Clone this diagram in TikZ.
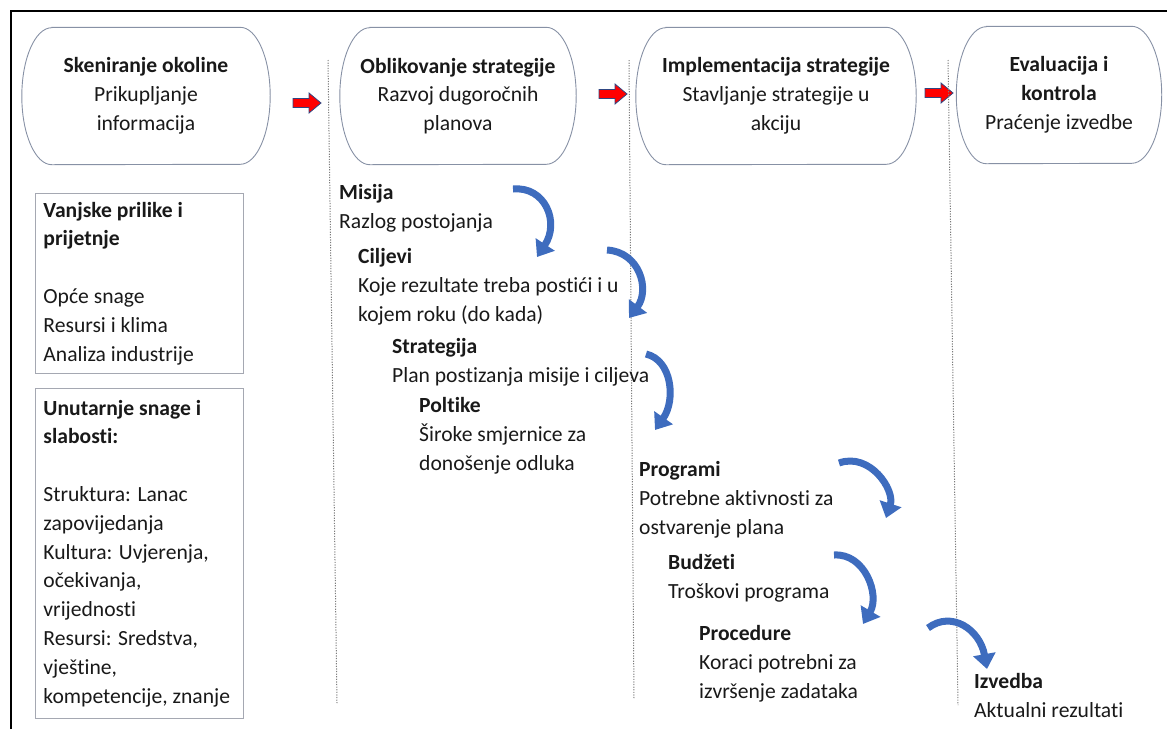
\documentclass[tikz,border=0pt]{standalone}
\usepackage{fontspec}
\setmainfont{Carlito}[Ligatures={NoCommon,NoContextual,NoRare}]
\usetikzlibrary{arrows.meta}
\definecolor{phaseline}{RGB}{135,145,165}
\definecolor{boxline}{RGB}{165,168,178}
\definecolor{dotline}{RGB}{125,125,125}
\definecolor{curvblue}{RGB}{62,108,190}
\definecolor{arrline}{RGB}{47,70,130}
\definecolor{textcol}{RGB}{25,25,25}
\newcommand{\phaseoutline}[1]{%
  \draw[draw=phaseline, line width=0.9pt] ([xshift=30pt]#1.north west)
    -- ([xshift=-30pt]#1.north east) arc[start angle=-90, end angle=90, x radius=30, y radius=68.5]
    -- ([xshift=30pt]#1.south west) arc[start angle=90, end angle=270, x radius=30, y radius=68.5]
    -- cycle;}
\tikzset{
  every node/.style={font=\fontsize{21.6}{28.8}\selectfont, text=textcol},
  phase/.style={align=center, minimum height=137pt},
  infobox/.style={draw=boxline, line width=0.9pt, align=flush left, anchor=north west,
    text width=192pt, inner xsep=8pt, inner ysep=0pt},
  stepnote/.style={anchor=base west, align=left, inner sep=0pt},
  divider/.style={draw=dotline, line width=1pt, dash pattern=on 1.2pt off 1.4pt},
  curvarr/.style={draw=curvblue, line width=7pt, -{Triangle[length=15pt,width=22pt]}},
  redarr/.pic={\draw[fill=red, draw=arrline, line width=0.8pt]
    (-14,-4.5) -- (2,-4.5) -- (2,-10) -- (14,0) -- (2,10) -- (2,4.5) -- (-14,4.5) -- cycle;}
}
\begin{document}
\begin{tikzpicture}[x=1pt,y=-1pt]
  \useasboundingbox (0,0) rectangle (1167,729);
  \draw[line width=1.6pt] (11,729) |- (1167,11);
  % phases
  \node[phase, minimum width=248pt] (skener) at (146,96)
    {\textbf{Skeniranje okoline}\\Prikupljanje\\informacija};
  \node[phase, minimum width=236pt] (oblik) at (458,96)
    {\textbf{Oblikovanje strategije}\\Razvoj dugoročnih\\planova};
  \node[phase, minimum width=280pt] (implem) at (776,96)
    {\textbf{Implementacija strategije}\\Stavljanje strategije u\\akciju};
  \node[phase, minimum width=205pt] (evalu) at (1059,95)
    {\textbf{Evaluacija i}\\\textbf{kontrola}\\Praćenje izvedbe};
  \phaseoutline{skener}
  \phaseoutline{oblik}
  \phaseoutline{implem}
  \phaseoutline{evalu}
  \pic (r1) at (307,103) {redarr};
  \pic (r2) at (613,94) {redarr};
  \pic (r3) at (939,93) {redarr};
  % dividers
  \coordinate (d1t) at (328,60);  \coordinate (d1b) at (337,703);
  \coordinate (d2t) at (629,60);  \coordinate (d2b) at (634,699);
  \coordinate (d3t) at (948,60);  \coordinate (d3b) at (958,705);
  \draw[divider] (d1t) -- (d1b);
  \draw[divider] (d2t) -- (d2b);
  \draw[divider] (d3t) -- (d3b);
  % environment
  \node[infobox, minimum height=180pt] (vanjske) at (35,193)
    {\textbf{Vanjske prilike i}\\\textbf{prijetnje}\\[28.8pt]Opće snage\\Resursi i klima\\Analiza industrije};
  \node[infobox, minimum height=330pt] (unutarnje) at (35,388)
    {\textbf{Unutarnje snage i}\\\textbf{slabosti:}\\[28.8pt]Struktura: Lanac\\zapovijedanja\\Kultura: Uvjerenja,\\očekivanja,\\vrijednosti\\Resursi: Sredstva,\\vještine,\\kompetencije, znanje};
  % steps (placed at the baseline of their last line)
  \node[stepnote] (misija) at (339,228) {\textbf{Misija}\\Razlog postojanja};
  \node[stepnote] (ciljevi) at (358,321) {\textbf{Ciljevi}\\Koje rezultate treba postići i u\\kojem roku (do kada)};
  \node[stepnote] (strategija) at (392,382) {\textbf{Strategija}\\Plan postizanja misije i ciljeva};
  \node[stepnote] (politike) at (419,470) {\textbf{Poltike}\\Široke smjernice za\\donošenje odluka};
  \node[stepnote] (programi) at (639,534) {\textbf{Programi}\\Potrebne aktivnosti za\\ostvarenje plana};
  \node[stepnote] (budzeti) at (668,598) {\textbf{Budžeti}\\Troškovi programa};
  \node[stepnote] (procedure) at (699,698) {\textbf{Procedure}\\Koraci potrebni za\\izvršenje zadataka};
  \node[stepnote] (izvedba) at (974,717) {\textbf{Izvedba}\\Aktualni rezultati};
  % curved arrows
  \draw[curvarr] (513,189) .. controls (545,186) and (560,222) .. (537,257);
  \draw[curvarr] (607,250) .. controls (640,252) and (650,290) .. (629,318);
  \draw[curvarr] (646,354) .. controls (672,360) and (676,400) .. (655,430);
  \draw[curvarr] (839,463) .. controls (870,452) and (895,490) .. (886,518);
  \draw[curvarr] (834,555) .. controls (865,553) and (880,595) .. (863,624);
  \draw[curvarr] (928,628) .. controls (952,610) and (980,630) .. (987,669);
\end{tikzpicture}
\end{document}
